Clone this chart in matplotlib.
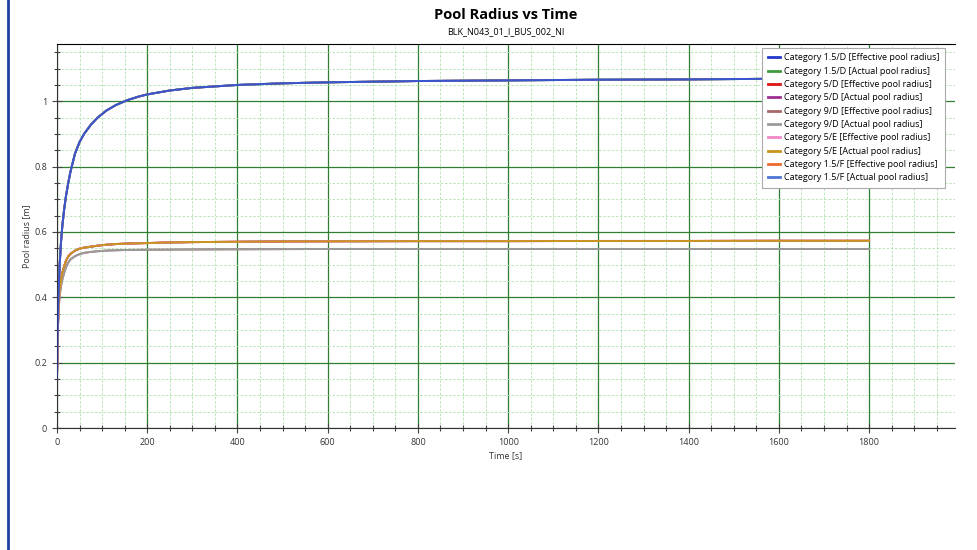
import numpy as np
import matplotlib
matplotlib.use('Agg')
import matplotlib.pyplot as plt
from matplotlib.lines import Line2D
from matplotlib.ticker import MultipleLocator

plt.rcParams['font.family'] = ['Open Sans', 'DejaVu Sans']

# tid [s]
t = [0, 1, 2, 4, 6, 9, 12, 16, 20, 25, 30, 40, 50, 60, 75, 90, 110, 130, 155, 180,
     200, 250, 300, 400, 500, 600, 800, 1000, 1200, 1400, 1600, 1800]

# pool radius [m] for dei tre nivåa
r_15 = [0.15, 0.27, 0.34, 0.43, 0.50, 0.57, 0.62, 0.67, 0.71, 0.75, 0.785, 0.84, 0.875, 0.90,
        0.928, 0.95, 0.972, 0.988, 1.003, 1.014, 1.021, 1.033, 1.041, 1.050, 1.055, 1.058,
        1.062, 1.064, 1.066, 1.067, 1.069, 1.070]
r_5 = [0.15, 0.25, 0.31, 0.38, 0.42, 0.455, 0.475, 0.495, 0.512, 0.525, 0.533, 0.543, 0.549,
       0.552, 0.555, 0.558, 0.561, 0.563, 0.5645, 0.5655, 0.566, 0.568, 0.569, 0.570, 0.571,
       0.5715, 0.572, 0.572, 0.5725, 0.5725, 0.573, 0.573]
r_9 = [0.15, 0.245, 0.30, 0.37, 0.405, 0.435, 0.455, 0.475, 0.492, 0.506, 0.516, 0.526, 0.532,
       0.536, 0.539, 0.541, 0.543, 0.544, 0.545, 0.5453, 0.5457, 0.546, 0.5465, 0.547, 0.5475,
       0.548, 0.548, 0.548, 0.548, 0.548, 0.548, 0.548]

labels = ['Category 1.5/D [Effective pool radius]', 'Category 1.5/D [Actual pool radius]',
          'Category 5/D [Effective pool radius]', 'Category 5/D [Actual pool radius]',
          'Category 9/D [Effective pool radius]', 'Category 9/D [Actual pool radius]',
          'Category 5/E [Effective pool radius]', 'Category 5/E [Actual pool radius]',
          'Category 1.5/F [Effective pool radius]', 'Category 1.5/F [Actual pool radius]']
data = [r_15, r_15, r_5, r_5, r_9, r_9, r_5, r_5, r_15, r_15]
colors = ['#2238cc', '#3d9a3d', '#dd1515', '#9a2f8f', '#a86868', '#9a9a9a',
          '#f08ac8', '#c8941e', '#f06a30', '#4f74d6']

fig = plt.figure(figsize=(9.77, 5.5), dpi=100)
ax = fig.add_axes([0.0583, 0.2218, 0.919, 0.698])

for i in range(len(labels)):
    ax.plot(t, data[i], color=colors[i], lw=1.4, label=labels[i])
# 1.5/D effektiv ligg litt over, gir mørkare blå
ax.plot(t, data[0], color=colors[0], lw=1.4, alpha=0.5, zorder=3)

ax.set_xlim(0, 1990)
ax.set_ylim(0, 1.175)
ax.xaxis.set_major_locator(MultipleLocator(200))
ax.xaxis.set_minor_locator(MultipleLocator(50))
ax.yaxis.set_major_locator(MultipleLocator(0.2))
ax.yaxis.set_minor_locator(MultipleLocator(0.05))
ax.set_yticks(np.arange(0, 1.01, 0.2))
ax.set_yticklabels(['0', '0.2', '0.4', '0.6', '0.8', '1'])

ax.grid(which='major', color='#2f7f2f', lw=0.9)
ax.grid(which='minor', color='#aee0ae', lw=0.6, ls=(0, (3, 2)))
ax.set_axisbelow(True)

ax.tick_params(which='both', direction='inout', labelsize=6.5, color='#444444', width=0.8,
               labelcolor='#333333')
ax.tick_params(which='major', length=7)
ax.tick_params(which='minor', length=5)

ax.spines['right'].set_visible(False)
ax.spines['top'].set_color('black')
ax.spines['left'].set_color('#333333')
ax.spines['bottom'].set_color('#333333')

ax.set_xlabel('Time [s]', fontsize=6.5, labelpad=3, color='#333333')
ax.set_ylabel('Pool radius [m]', fontsize=6.5, labelpad=2, color='#333333')

fig.text(0.518, 0.972, 'Pool Radius vs Time', ha='center', va='center', fontsize=10.5, fontweight='bold')
fig.text(0.518, 0.943, 'BLK_N043_01_I_BUS_002_NI', ha='center', va='center', fontsize=6.5)

leg = ax.legend(loc='upper right', bbox_to_anchor=(0.989, 0.99), fontsize=6.5,
                handlelength=1.3, handletextpad=0.5, labelspacing=0.48, borderpad=0.6,
                borderaxespad=0, frameon=True, fancybox=False, framealpha=1)
leg.get_frame().set_edgecolor('#aaaaaa')
leg.get_frame().set_linewidth(0.8)
for l in leg.get_lines():
    l.set_linewidth(2)

# blå kant til venstre
fig.add_artist(Line2D([0.0085, 0.0085], [0, 1], transform=fig.transFigure, color='#1f3fa0', lw=2))

plt.savefig('out.png', dpi=100)
